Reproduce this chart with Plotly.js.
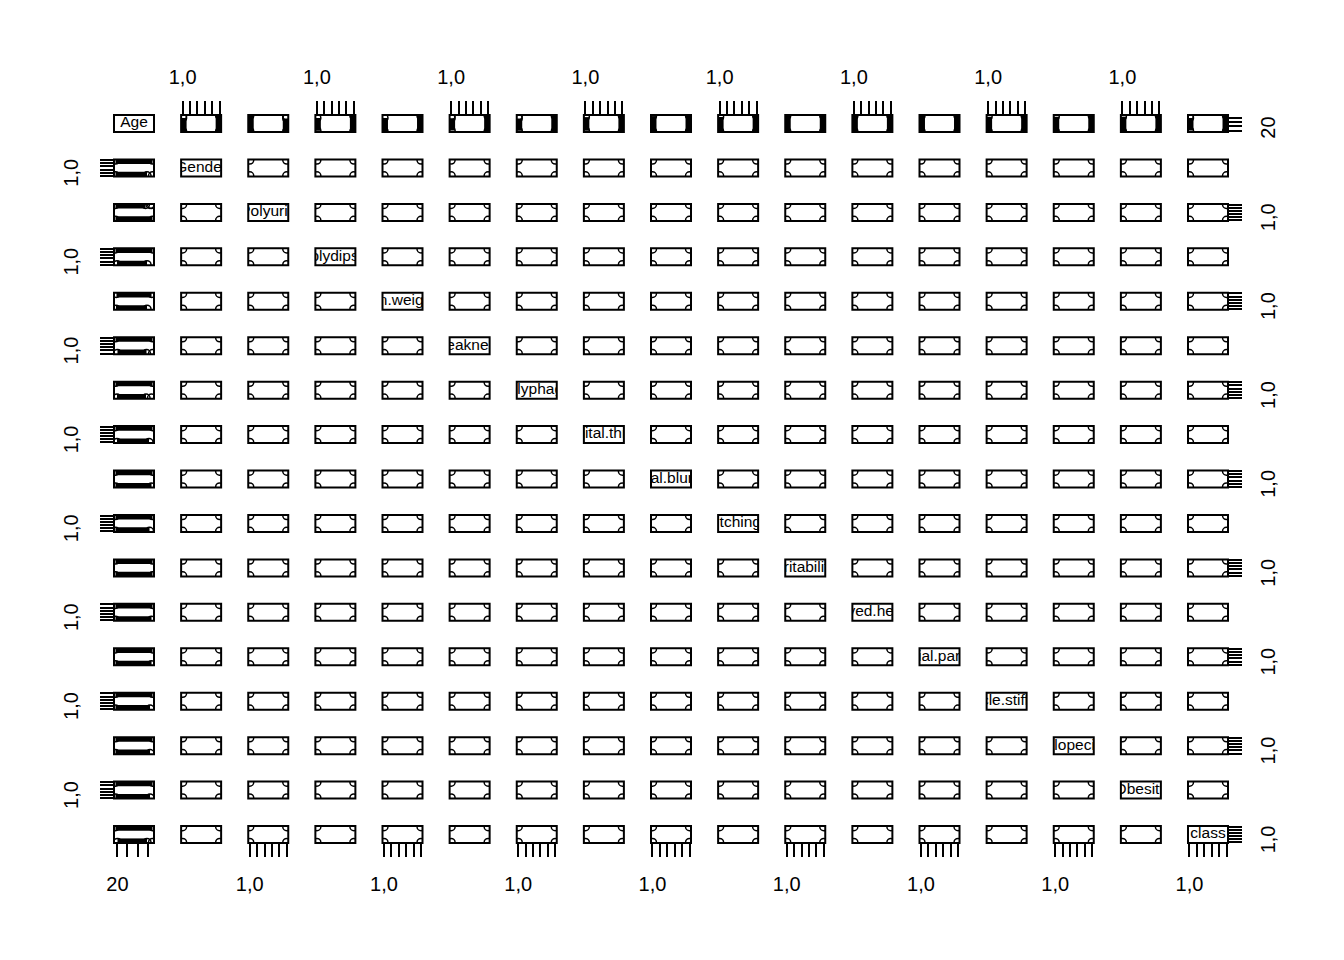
<!DOCTYPE html>
<html><head><meta charset="utf-8">
<script src="https://cdn.plot.ly/plotly-3.0.1.min.js"></script>
<style>body{margin:0;background:#fff}#plot{width:1344px;height:960px}</style>
</head><body><div id="plot"></div>
<script>
// ---- data ----
const varNames = ['Age','Gender','Polyuria','Polydipsia','sudden.weight.loss','weakness',
  'Polyphagia','Genital.thrush','visual.blurring','Itching','Irritability','delayed.healing',
  'partial.paresis','muscle.stiffness','Alopecia','Obesity','class'];
const binaryLevels = [1, 2];
const ageMin = 16, ageMax = 90;
const binaryTickVals = [1, 1.2, 1.4, 1.6, 1.8, 2];
const binaryTickText = ['1,0', '', '', '', '', ''];
const ageTickVals = [20, 40, 60, 80];
const ageTickText = ['20', '', '', ''];
// combinations of levels observed for every pair of binary variables
const comboX = [1, 1, 2, 2];
const comboY = [1, 2, 1, 2];
// age span (min, max) observed in level 1 and level 2 of each binary variable (index 1..16)
const lvl1AgeLo = [null, 16, 16, 19, 17, 20, 19, 19, 16, 16, 16, 16, 16, 16, 16, 16, 20];
const lvl1AgeHi = [null, 79, 90, 79, 79, 78, 77, 83, 88, 84, 90, 88, 88, 85, 85, 85, 79];
const lvl2AgeLo = [null, 16, 16, 16, 18, 16, 16, 16, 16, 16, 16, 16, 16, 16, 16, 16, 16];
const lvl2AgeHi = [null, 90, 76, 90, 88, 90, 90, 90, 90, 90, 90, 90, 90, 90, 90, 90, 90];
// isolated ages outside the main span
const lvl1AgeExtra = [[], [90], [], [], [], [90], [88], [], [], [], [], [], [], [], [], [], [90]];
const lvl2AgeExtra = [[], [], [85, 88], [], [], [], [], [], [], [], [], [], [], [], [], [], []];

// ---- geometry ----
const W = 1344, H = 960;
const mL = 113, mR = 115, mT = 114, mB = 116;
const pw = W - mL - mR, ph = H - mT - mB;
const N = varNames.length;
const colStep = 67.125, colW = 40, colOff = 1;
const rowStep = 44.44, rowH = 17, rowOff = 1;
const FONT = 'Liberation Sans, Arial, sans-serif';

function axRef(prefix, k) { return k === 0 ? prefix : prefix + (k + 1); }
function axName(prefix, k) { return k === 0 ? prefix : prefix + (k + 1); }
function rangeOf(v) {
  if (v === 0) { const d = (ageMax - ageMin) * 0.04; return [ageMin - d, ageMax + d]; }
  return [0.96, 2.04];
}

const layout = {
  width: W, height: H, showlegend: false,
  paper_bgcolor: '#fff', plot_bgcolor: '#fff',
  margin: {l: mL, r: mR, t: mT, b: mB, pad: 0},
  font: {family: FONT, color: '#000'},
  shapes: []
};

for (let j = 0; j < N; j++) {
  const x0 = (colOff + j * colStep) / pw;
  const odd = (j % 2 === 0); // 1-based odd column -> axis at bottom
  layout[axName('xaxis', j)] = {
    domain: [x0, x0 + colW / pw], range: rangeOf(j), fixedrange: true,
    showline: false, mirror: false, showgrid: false, zeroline: false,
    ticks: 'outside', ticklen: 13, tickwidth: 2, tickcolor: '#000',
    tickmode: 'array',
    tickvals: j === 0 ? ageTickVals : binaryTickVals,
    ticktext: j === 0 ? ageTickText : binaryTickText,
    tickfont: {family: FONT, size: 20, color: '#000'},
    ticklabelstandoff: odd ? 10 : 9,
    anchor: odd ? axRef('y', N - 1) : 'y', side: odd ? 'bottom' : 'top'
  };
}
for (let i = 0; i < N; i++) {
  const top = rowOff + i * rowStep;
  const y1 = 1 - top / ph, y0 = 1 - (top + rowH) / ph;
  const odd = (i % 2 === 0); // 1-based odd row -> axis at right
  layout[axName('yaxis', i)] = {
    domain: [Math.max(0, y0), Math.min(1, y1)], range: rangeOf(i), fixedrange: true,
    showline: false, mirror: false, showgrid: false, zeroline: false,
    ticks: 'outside', ticklen: 13, tickwidth: 2, tickcolor: '#000',
    tickmode: 'array',
    tickvals: i === 0 ? ageTickVals : binaryTickVals,
    ticktext: i === 0 ? ageTickText : binaryTickText,
    tickfont: {family: FONT, size: 20, color: '#000'},
    tickangle: -90, ticklabelstandoff: odd ? 9 : 14,
    anchor: odd ? axRef('x', N - 1) : 'x', side: odd ? 'right' : 'left'
  };
}

// panel frames
for (let i = 0; i < N; i++) {
  for (let j = 0; j < N; j++) {
    layout.shapes.push({type: 'rect', xref: axRef('x', j) + ' domain', yref: axRef('y', i) + ' domain',
      x0: 0, x1: 1, y0: 0, y1: 1, line: {color: '#000', width: 2}, fillcolor: 'rgba(0,0,0,0)', layer: 'above'});
  }
}

const mk = {symbol: 'circle-open', size: 8, color: '#000', line: {width: 1.5, color: '#000'}};
const traces = [];
function agePieces(v, lvl) {
  const lo = lvl === 1 ? lvl1AgeLo[v] : lvl2AgeLo[v];
  const hi = lvl === 1 ? lvl1AgeHi[v] : lvl2AgeHi[v];
  const ex = lvl === 1 ? lvl1AgeExtra[v] : lvl2AgeExtra[v];
  return {lo, hi, ex};
}
for (let i = 0; i < N; i++) {
  for (let j = 0; j < N; j++) {
    const xa = axRef('x', j), ya = axRef('y', i);
    if (i === j) {
      const rx = rangeOf(j), ry = rangeOf(i);
      traces.push({type: 'scatter', mode: 'text', x: [(rx[0] + rx[1]) / 2], y: [(ry[0] + ry[1]) / 2],
        text: [varNames[i]], textfont: {family: FONT, size: 15.5, color: '#000'},
        textposition: 'middle center', xaxis: xa, yaxis: ya, hoverinfo: 'skip', cliponaxis: true});
    } else if (i !== 0 && j !== 0) {
      traces.push({type: 'scatter', mode: 'markers', x: comboX, y: comboY, marker: mk,
        xaxis: xa, yaxis: ya, hoverinfo: 'skip', cliponaxis: true});
    } else {
      const v = j === 0 ? i : j; // binary variable
      binaryLevels.forEach(lvl => {
        const p = agePieces(v, lvl);
        const ages = [p.lo, p.hi];
        const lv = [lvl, lvl];
        const pts = [p.lo, p.hi].concat(p.ex);
        const lvp = pts.map(() => lvl);
        if (j === 0) {
          traces.push({type: 'scatter', mode: 'lines', x: ages, y: lv, line: {color: '#000', width: 8},
            xaxis: xa, yaxis: ya, hoverinfo: 'skip'});
          traces.push({type: 'scatter', mode: 'markers', x: pts, y: lvp, marker: mk,
            xaxis: xa, yaxis: ya, hoverinfo: 'skip', cliponaxis: true});
        } else {
          traces.push({type: 'scatter', mode: 'lines', x: lv, y: ages, line: {color: '#000', width: 8},
            xaxis: xa, yaxis: ya, hoverinfo: 'skip'});
          traces.push({type: 'scatter', mode: 'markers', x: lvp, y: pts, marker: mk,
            xaxis: xa, yaxis: ya, hoverinfo: 'skip', cliponaxis: true});
        }
      });
    }
  }
}
Plotly.newPlot('plot', traces, layout, {staticPlot: true, displayModeBar: false});
</script></body></html>
